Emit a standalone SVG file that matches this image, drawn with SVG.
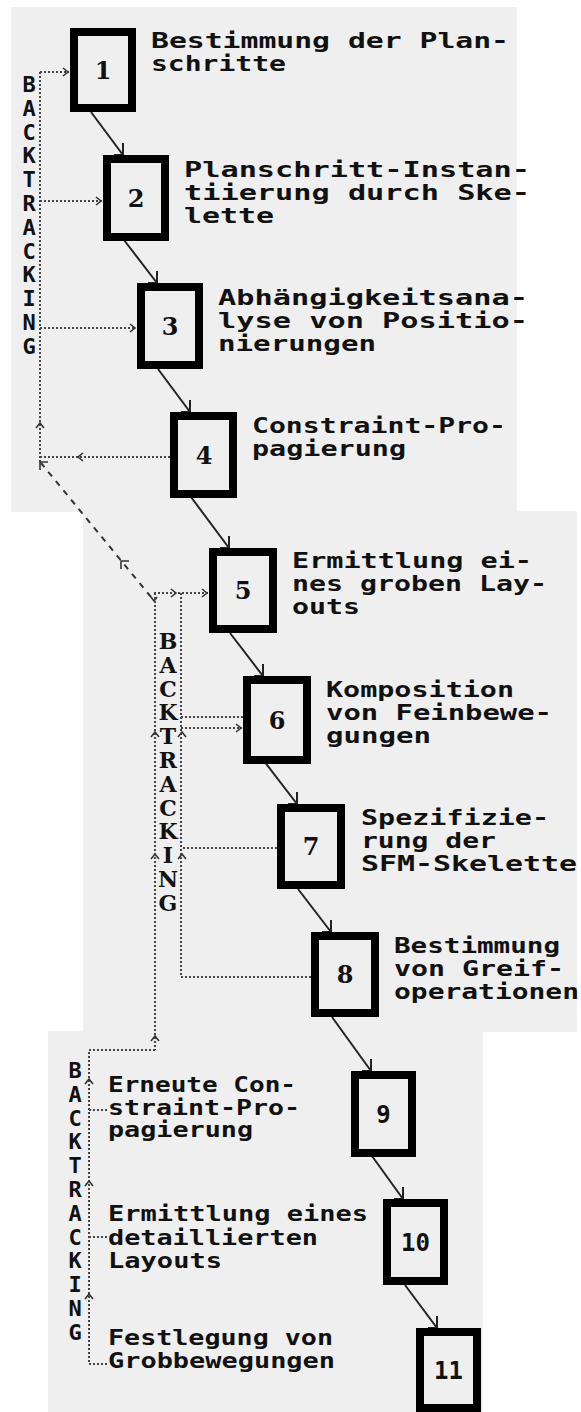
<svg xmlns="http://www.w3.org/2000/svg" xmlns:xlink="http://www.w3.org/1999/xlink" width="581" height="1412" viewBox="0 0 581 1412">
<style>
.panel{fill:#efefef;stroke:none}
.box{fill:#efefef;stroke:#000;stroke-width:8}
.num{font-family:"DejaVu Serif","Liberation Serif",serif;font-weight:bold;font-size:24px;fill:#111;text-anchor:middle}
.num2{font-family:"DejaVu Sans Mono","Liberation Mono",monospace;font-weight:bold;font-size:24px;fill:#111;text-anchor:middle}
.lbl{font-family:"DejaVu Sans Mono","Liberation Mono",monospace;font-weight:bold;font-size:21px;fill:#111}
.bt{font-family:"DejaVu Sans Mono","Liberation Mono",monospace;font-weight:bold;font-size:22px;fill:#111;text-anchor:middle}
.bts{font-family:"DejaVu Serif","Liberation Serif",serif;font-weight:bold;font-size:22px;fill:#111;text-anchor:middle}
.solid{stroke:#222;stroke-width:2;fill:none;marker-end:url(#ah)}
.dot{stroke:#444;stroke-width:2;fill:none;stroke-dasharray:2 2}
.dash{stroke:#333;stroke-width:2;fill:none;stroke-dasharray:6 6}
.chev{stroke:#333;stroke-width:1.6;fill:none}
</style>
<defs>
<marker id="ah" markerUnits="userSpaceOnUse" orient="0" refX="0" refY="0" markerWidth="30" markerHeight="30" viewBox="-15 -15 30 30" overflow="visible">
<path d="M0,-12 L0,0 L-9,0" stroke="#222" stroke-width="2" fill="none"/>
</marker>
<path id="cR" class="chev" d="M-5,-4 L0,0 L-5,4"/>
<path id="cL" class="chev" d="M5,-4 L0,0 L5,4"/>
<path id="cU" class="chev" d="M-4,5 L0,0 L4,5"/>
<path id="cD" class="chev" d="M-3,-4 L0,0 L3,-4"/>
<path id="cUL" class="chev" d="M8,0 L0,0 L0,8"/>
</defs>

<rect class="panel" x="11" y="7" width="506" height="505"/>
<rect class="panel" x="83" y="511" width="494" height="521"/>
<rect class="panel" x="48" y="1031" width="435" height="381"/>

<g id="connectors">
<line class="solid" x1="91" y1="112" x2="123" y2="155"/>
<line class="solid" x1="124" y1="240" x2="157" y2="283"/>
<line class="solid" x1="158" y1="369" x2="190" y2="412"/>
<line class="solid" x1="191" y1="497" x2="229" y2="548"/>
<line class="solid" x1="230" y1="633" x2="263" y2="676"/>
<line class="solid" x1="264" y1="761" x2="297" y2="804"/>
<line class="solid" x1="298" y1="889" x2="331" y2="932"/>
<line class="solid" x1="332" y1="1017" x2="371" y2="1071"/>
<line class="solid" x1="372" y1="1156" x2="403" y2="1199"/>
<line class="solid" x1="405" y1="1285" x2="437" y2="1328"/>

<path class="dot" d="M40,72 V462"/>
<path class="dot" d="M40,72 H69"/>
<path class="dot" d="M40,201 H102"/>
<path class="dot" d="M40,328 H136"/>
<path class="dot" d="M170,457 H40"/>
<use xlink:href="#cR" x="68" y="72"/>
<use xlink:href="#cR" x="101" y="201"/>
<use xlink:href="#cR" x="135" y="328"/>
<use xlink:href="#cL" x="78" y="457"/>
<use xlink:href="#cU" x="40" y="423"/>

<path class="dash" d="M151,597 L41,463"/>
<use xlink:href="#cUL" x="40" y="462"/>
<use xlink:href="#cUL" x="121" y="561"/>
<use xlink:href="#cD" x="154" y="601"/>

<path class="dot" d="M154,593 H208"/>
<path class="dot" d="M155,593 V1050"/>
<path class="dot" d="M181,593 V977"/>
<path class="dot" d="M243,717 H181"/>
<path class="dot" d="M181,728 H242"/>
<path class="dot" d="M277,848 H181"/>
<path class="dot" d="M311,977 H181"/>
<use xlink:href="#cR" x="176" y="593"/>
<use xlink:href="#cR" x="207" y="593"/>
<use xlink:href="#cR" x="241" y="728"/>
<use xlink:href="#cU" x="155" y="732"/>
<use xlink:href="#cU" x="182" y="732"/>
<use xlink:href="#cU" x="155" y="854"/>
<use xlink:href="#cU" x="182" y="854"/>
<use xlink:href="#cU" x="155" y="1036"/>

<path class="dot" d="M155,1050 H89 V1364"/>
<path class="dot" d="M89,1110 H107"/>
<path class="dot" d="M89,1237 H107"/>
<path class="dot" d="M89,1364 H107"/>
<use xlink:href="#cU" x="89" y="1079"/>
<use xlink:href="#cU" x="89" y="1181"/>
<use xlink:href="#cU" x="89" y="1294"/>
</g>

<g id="bt1">
<text class="bt"><tspan x="29" y="92">B</tspan><tspan x="29" dy="23.8">A</tspan><tspan x="29" dy="23.8">C</tspan><tspan x="29" dy="23.8">K</tspan><tspan x="29" dy="23.8">T</tspan><tspan x="29" dy="23.8">R</tspan><tspan x="29" dy="23.8">A</tspan><tspan x="29" dy="23.8">C</tspan><tspan x="29" dy="23.8">K</tspan><tspan x="29" dy="23.8">I</tspan><tspan x="29" dy="23.8">N</tspan><tspan x="29" dy="23.8">G</tspan></text>
</g>
<g id="bt2">
<text class="bts"><tspan x="168" y="649">B</tspan><tspan x="168" dy="23.8">A</tspan><tspan x="168" dy="23.8">C</tspan><tspan x="168" dy="23.8">K</tspan><tspan x="168" dy="23.8">T</tspan><tspan x="168" dy="23.8">R</tspan><tspan x="168" dy="23.8">A</tspan><tspan x="168" dy="23.8">C</tspan><tspan x="168" dy="23.8">K</tspan><tspan x="168" dy="23.8">I</tspan><tspan x="168" dy="23.8">N</tspan><tspan x="168" dy="23.8">G</tspan></text>
</g>
<g id="bt3">
<text class="bt"><tspan x="75" y="1078">B</tspan><tspan x="75" dy="23.8">A</tspan><tspan x="75" dy="23.8">C</tspan><tspan x="75" dy="23.8">K</tspan><tspan x="75" dy="23.8">T</tspan><tspan x="75" dy="23.8">R</tspan><tspan x="75" dy="23.8">A</tspan><tspan x="75" dy="23.8">C</tspan><tspan x="75" dy="23.8">K</tspan><tspan x="75" dy="23.8">I</tspan><tspan x="75" dy="23.8">N</tspan><tspan x="75" dy="23.8">G</tspan></text>
</g>

<g id="n1">
<rect class="box" x="74" y="32" width="58" height="76"/>
<text class="num" x="103" y="79">1</text>
<text class="lbl" x="151" y="48" textLength="358" lengthAdjust="spacingAndGlyphs">Bestimmung der Plan-</text>
<text class="lbl" x="151" y="71" textLength="135" lengthAdjust="spacingAndGlyphs">schritte</text>
</g>
<g id="n2">
<rect class="box" x="107" y="159" width="58" height="78"/>
<text class="num" x="136" y="207">2</text>
<text class="lbl" x="184" y="177" textLength="346" lengthAdjust="spacingAndGlyphs">Planschritt-Instan-</text>
<text class="lbl" x="184" y="200" textLength="346" lengthAdjust="spacingAndGlyphs">tiierung durch Ske-</text>
<text class="lbl" x="184" y="223" textLength="90" lengthAdjust="spacingAndGlyphs">lette</text>
</g>
<g id="n3">
<rect class="box" x="141" y="287" width="58" height="78"/>
<text class="num" x="170" y="335">3</text>
<text class="lbl" x="218" y="305" textLength="310" lengthAdjust="spacingAndGlyphs">Abhängigkeitsana-</text>
<text class="lbl" x="218" y="328" textLength="310" lengthAdjust="spacingAndGlyphs">lyse von Positio-</text>
<text class="lbl" x="218" y="351" textLength="158" lengthAdjust="spacingAndGlyphs">nierungen</text>
</g>
<g id="n4">
<rect class="box" x="174" y="416" width="59" height="78"/>
<text class="num" x="204" y="464">4</text>
<text class="lbl" x="252" y="433" textLength="254" lengthAdjust="spacingAndGlyphs">Constraint-Pro-</text>
<text class="lbl" x="252" y="456" textLength="154" lengthAdjust="spacingAndGlyphs">pagierung</text>
</g>
<g id="n5">
<rect class="box" x="213" y="552" width="60" height="77"/>
<text class="num" x="243" y="599">5</text>
<text class="lbl" x="292" y="568" textLength="240" lengthAdjust="spacingAndGlyphs">Ermittlung ei-</text>
<text class="lbl" x="292" y="591" textLength="255" lengthAdjust="spacingAndGlyphs">nes groben Lay-</text>
<text class="lbl" x="292" y="614" textLength="68" lengthAdjust="spacingAndGlyphs">outs</text>
</g>
<g id="n6">
<rect class="box" x="247" y="680" width="60" height="80"/>
<text class="num" x="277" y="729">6</text>
<text class="lbl" x="326" y="697" textLength="188" lengthAdjust="spacingAndGlyphs">Komposition</text>
<text class="lbl" x="326" y="720" textLength="226" lengthAdjust="spacingAndGlyphs">von Feinbewe-</text>
<text class="lbl" x="326" y="743" textLength="105" lengthAdjust="spacingAndGlyphs">gungen</text>
</g>
<g id="n7">
<rect class="box" x="281" y="808" width="60" height="77"/>
<text class="num" x="311" y="855">7</text>
<text class="lbl" x="361" y="825" textLength="188" lengthAdjust="spacingAndGlyphs">Spezifizie-</text>
<text class="lbl" x="361" y="848" textLength="135" lengthAdjust="spacingAndGlyphs">rung der</text>
<text class="lbl" x="361" y="871" textLength="216" lengthAdjust="spacingAndGlyphs">SFM-Skelette</text>
</g>
<g id="n8">
<rect class="box" x="315" y="936" width="60" height="77"/>
<text class="num" x="345" y="983">8</text>
<text class="lbl" x="394" y="953" textLength="166" lengthAdjust="spacingAndGlyphs">Bestimmung</text>
<text class="lbl" x="394" y="976" textLength="170" lengthAdjust="spacingAndGlyphs">von Greif-</text>
<text class="lbl" x="394" y="999" textLength="185" lengthAdjust="spacingAndGlyphs">operationen</text>
</g>
<g id="n9">
<rect class="box" x="355" y="1075" width="57" height="78"/>
<text class="num2" x="383.5" y="1123">9</text>
<text class="lbl" x="108" y="1092" textLength="188" lengthAdjust="spacingAndGlyphs">Erneute Con-</text>
<text class="lbl" x="108" y="1115" textLength="192" lengthAdjust="spacingAndGlyphs">straint-Pro-</text>
<text class="lbl" x="108" y="1137" textLength="145" lengthAdjust="spacingAndGlyphs">pagierung</text>
</g>
<g id="n10">
<rect class="box" x="387" y="1203" width="57" height="78"/>
<text class="num2" x="415.5" y="1251">10</text>
<text class="lbl" x="108" y="1221" textLength="260" lengthAdjust="spacingAndGlyphs">Ermittlung eines</text>
<text class="lbl" x="108" y="1245" textLength="210" lengthAdjust="spacingAndGlyphs">detaillierten</text>
<text class="lbl" x="108" y="1268" textLength="114" lengthAdjust="spacingAndGlyphs">Layouts</text>
</g>
<g id="n11">
<rect class="box" x="420" y="1332" width="57" height="76"/>
<text class="num2" x="448.5" y="1379">11</text>
<text class="lbl" x="108" y="1345" textLength="225" lengthAdjust="spacingAndGlyphs">Festlegung von</text>
<text class="lbl" x="108" y="1368" textLength="227" lengthAdjust="spacingAndGlyphs">Grobbewegungen</text>
</g>
</svg>
